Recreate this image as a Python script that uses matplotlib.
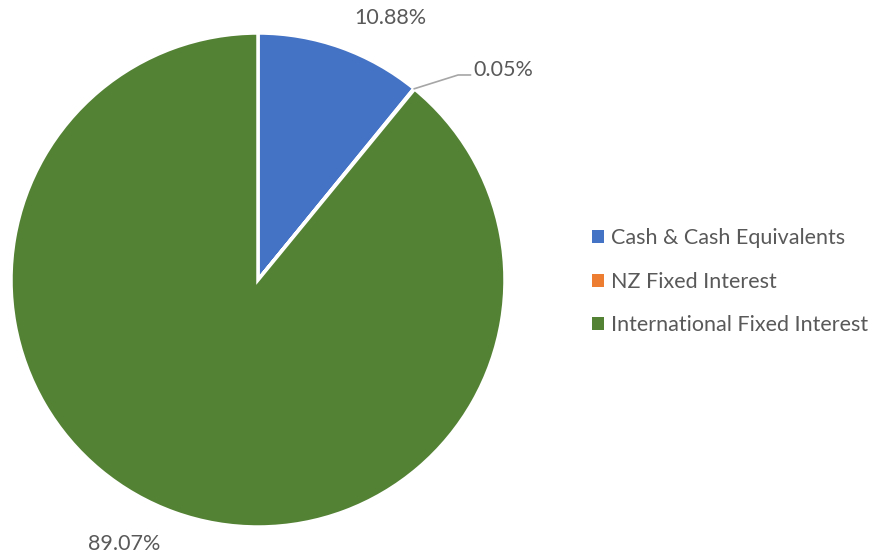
import matplotlib
matplotlib.use("Agg")
import matplotlib.pyplot as plt
from matplotlib.patches import Patch
import numpy as np

categories = ["Cash & Cash Equivalents", "NZ Fixed Interest", "International Fixed Interest"]
values = [10.88, 0.05, 89.07]
labels = ["10.88%", "0.05%", "89.07%"]
colors = ["#4472C4", "#ED7D31", "#548235"]

plt.rcParams['font.family'] = ['Lato', 'DejaVu Sans']
txt = "#595959"
fs = 15.5

fig = plt.figure(figsize=(8.78, 5.6), dpi=100)
r_px = 247
cx, cy = 258, 280
ax = fig.add_axes([(cx - r_px) / 878, (560 - cy - r_px) / 560, 2 * r_px / 878, 2 * r_px / 560])
wedges, _ = ax.pie(values, colors=colors, startangle=90, counterclock=False, radius=1,
                   wedgeprops=dict(edgecolor="white", linewidth=2.5))
ax.set_xlim(-1, 1)
ax.set_ylim(-1, 1)
ax.set_aspect("equal")
ax.axis("off")

# label 1
ax.text(0.534, 1.06, labels[0], ha="center", va="center", fontsize=fs, color=txt)
# label 2 with leader
w = wedges[1]
ang = np.deg2rad((w.theta1 + w.theta2) / 2)
x0, y0 = np.cos(ang), np.sin(ang)
ax.plot([x0, 0.81, 0.86], [y0, 0.83, 0.83], color="#A6A6A6", lw=1.2, clip_on=False)
ax.text(0.87, 0.85, labels[1], ha="left", va="center", fontsize=fs, color=txt)
# label 3
ax.text(-0.54, -1.07, labels[2], ha="center", va="center", fontsize=fs, color=txt)

handles = [Patch(facecolor=c, edgecolor="none") for c in colors]
fig.legend(handles, categories, loc="center left", bbox_to_anchor=(581 / 878, 0.497),
           frameon=False, fontsize=fs, labelcolor=txt, handlelength=0.55, handleheight=0.55,
           handletextpad=0.35, labelspacing=1.1, borderpad=0)

fig.savefig("out.png", dpi=100)
